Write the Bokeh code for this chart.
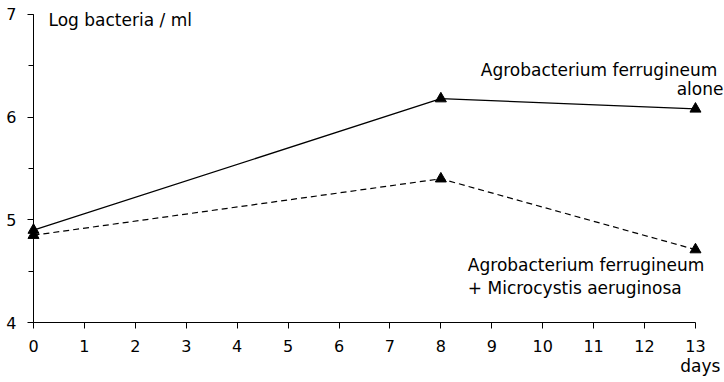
from bokeh.plotting import figure
from bokeh.models import Range1d, SingleIntervalTicker, Label
from bokeh.embed import file_html
from bokeh.resources import INLINE

days = [0, 8, 13]
alone = [4.90, 6.18, 6.08]
mixed = [4.85, 5.40, 4.71]

FONT = "DejaVu Sans"

p = figure(width=724, height=382, output_backend="svg", toolbar_location=None,
           x_range=Range1d(-0.648, 13.57), y_range=Range1d(3.416, 7.136),
           min_border_left=0, min_border_right=0, min_border_top=0, min_border_bottom=0)
p.outline_line_color = None
p.xgrid.visible = False
p.ygrid.visible = False
p.background_fill_color = "white"
p.border_fill_color = "white"

for ax in (p.xaxis[0], p.yaxis[0]):
    ax.axis_line_color = "black"
    ax.axis_line_width = 1
    ax.major_tick_line_color = "black"
    ax.minor_tick_line_color = "black"
    ax.major_tick_in = 0
    ax.major_tick_out = 6
    ax.minor_tick_in = 0
    ax.minor_tick_out = 5
    ax.major_label_text_font = FONT
    ax.major_label_text_font_size = "16px"
    ax.major_label_text_color = "black"

p.xaxis[0].ticker = SingleIntervalTicker(interval=1, num_minor_ticks=0)
p.xaxis[0].major_label_standoff = 11
p.xaxis[0].fixed_location = 4
p.xaxis[0].bounds = (0, 13)
p.yaxis[0].ticker = SingleIntervalTicker(interval=1, num_minor_ticks=2)
p.yaxis[0].major_label_standoff = 11
p.yaxis[0].fixed_location = 0
p.yaxis[0].bounds = (4, 7)

p.line(days, alone, line_color="black", line_width=1.3)
p.line(days, mixed, line_color="black", line_width=1.2, line_dash="6 4")
p.scatter(days, alone, marker="triangle", size=11, color="black")
p.scatter(days, mixed, marker="triangle", size=11, color="black")

def lab(x, y, t, align="left", size="17px"):
    p.add_layout(Label(x=x, y=y, text=t, text_font=FONT, text_font_size=size,
                       text_color="black", text_align=align, text_baseline="alphabetic"))

lab(0.295, 6.95, "Log bacteria / ml")
lab(13.43, 6.458, "Agrobacterium ferrugineum", "right")
lab(13.55, 6.278, "alone", "right")
lab(8.53, 4.56, "Agrobacterium ferrugineum")
lab(8.53, 4.34, "+ Microcystis aeruginosa")
lab(13.49, 3.572, "days", "right")

open("out.html", "w").write(file_html(p, INLINE))
